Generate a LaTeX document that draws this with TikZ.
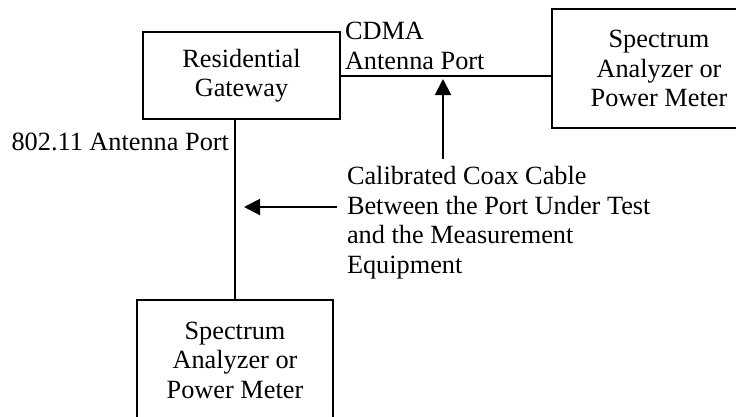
\documentclass[tikz,border=0pt]{standalone}
\usepackage{fontspec}
\setmainfont{Liberation Serif}
\usetikzlibrary{arrows.meta}

\tikzset{
    unit/.style={draw, line width=2pt, inner sep=0pt, align=center},
    note/.style={inner sep=0pt, align=left},
    pointer/.style={line width=2pt, -{Triangle[length=16pt, width=16pt]}}
}

\begin{document}
\begin{tikzpicture}[x=1pt, y=-1pt, line width=2pt,
    font=\fontsize{26.3}{29.5}\selectfont]
    \clip (0,0) rectangle (736,416);
    \useasboundingbox (0,0) rectangle (736,416);
    % Equipment boxes
    \node[unit, minimum width=197pt, minimum height=87pt] (gw) at (241.5,75.5) {Residential\\Gateway};
    \node[unit, minimum width=214pt, minimum height=119pt] (saRight) at (659,68.5) {Spectrum\\Analyzer or\\Power Meter};
    \node[unit, minimum width=196pt, minimum height=120pt] (saBottom) at (235,360) {Spectrum\\Analyzer or\\Power Meter};
    % Port labels
    \node[note, anchor=west] (cdma) at (344,46) {CDMA\\Antenna Port};
    \node[note, anchor=east] (wifi) at (230,142) {802.11 Antenna Port};
    \node[note, anchor=west] (coax) at (346,222.5) {Calibrated Coax Cable\\Between the Port Under Test\\and the Measurement\\Equipment};
    % Cables
    \draw (gw.east) -- (gw.east -| saRight.west);
    \draw (saBottom.north |- gw.south) -- (saBottom.north);
    % Arrows to the cables
    \coordinate (upTail) at (443,159);
    \coordinate (upTip) at (443,79);
    \coordinate (leftTail) at (337,207);
    \coordinate (leftTip) at (244,207);
    \draw[pointer] (upTail) -- (upTip);
    \draw[pointer] (leftTail) -- (leftTip);
\end{tikzpicture}
\end{document}
